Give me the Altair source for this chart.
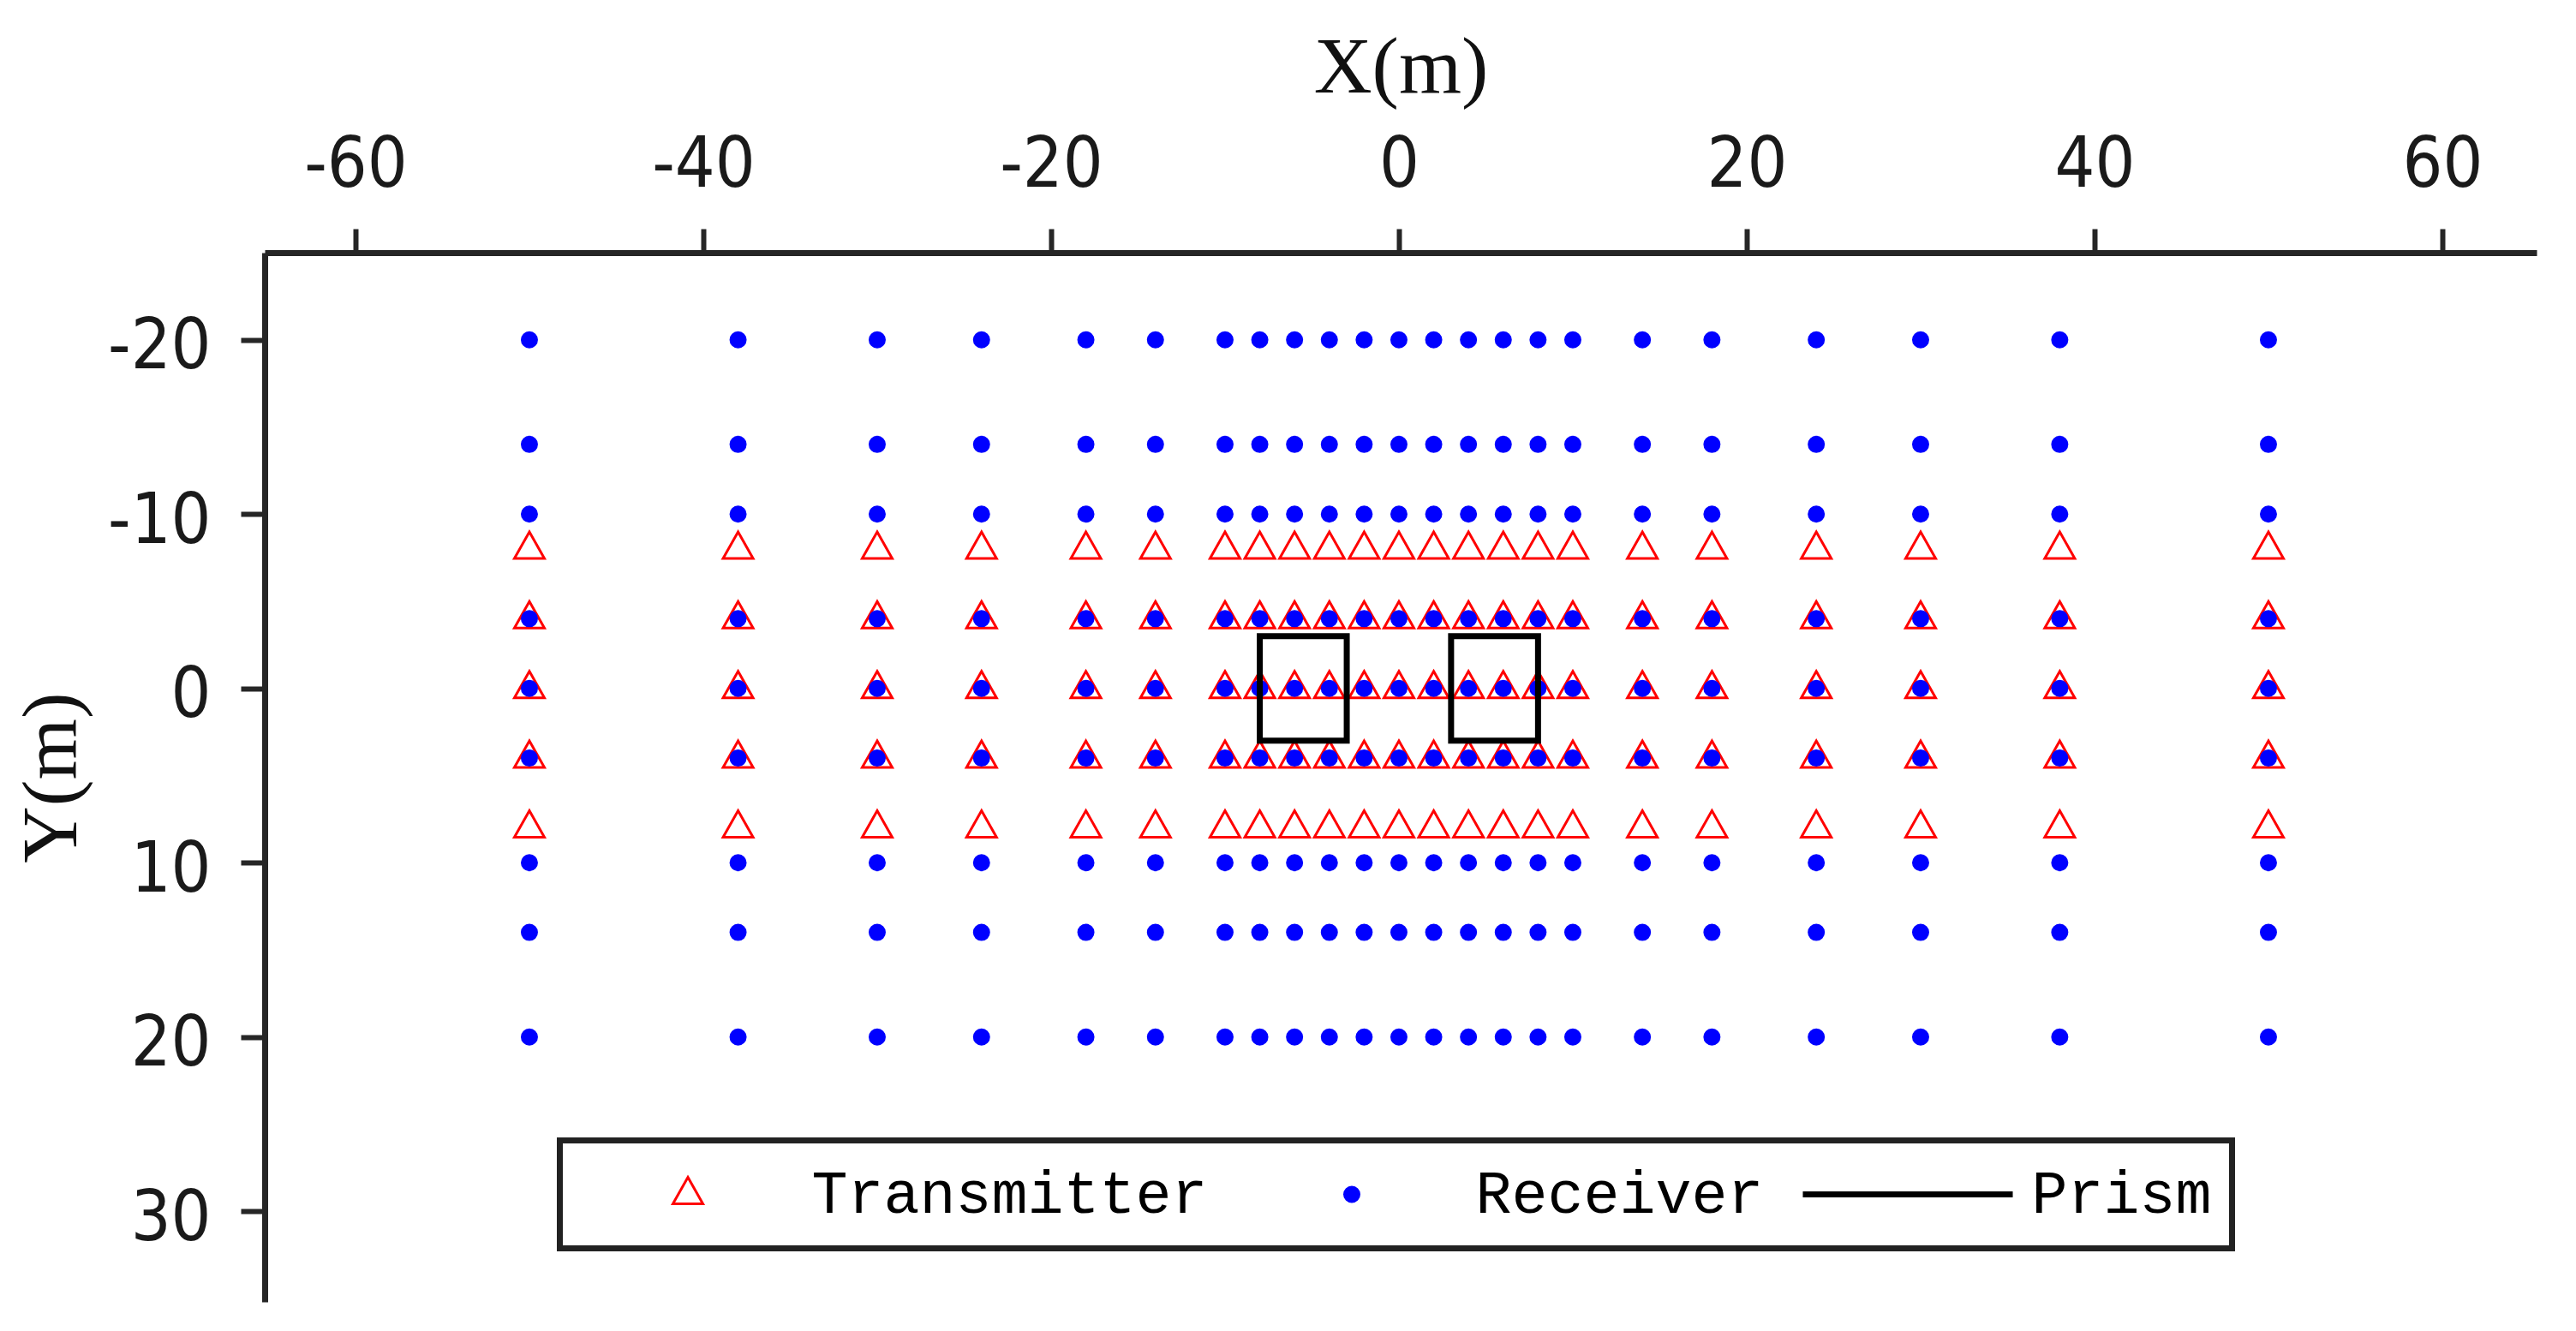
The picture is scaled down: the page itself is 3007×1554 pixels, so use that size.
import altair as alt
import pandas as pd

# ---- data ----
x_columns = [-50, -38, -30, -24, -18, -14, -10, -8, -6, -4, -2, 0, 2, 4, 6, 8, 10,
             14, 18, 24, 30, 38, 50]
transmitter_rows = [-8, -4, 0, 4, 8]
receiver_rows = [-20, -14, -10, -4, 0, 4, 10, 14, 20]
prism_x1 = [-8, 3]
prism_x2 = [-3, 8]
prism_y1 = [-3, -3]
prism_y2 = [3, 3]
x_ticks = [-60, -40, -20, 0, 20, 40, 60]
y_ticks = [-20, -10, 0, 10, 20, 30]
types = ["Transmitter", "Receiver", "Prism"]

rows = []
for yv in transmitter_rows:
    for xv in x_columns:
        rows.append({"x": xv, "y": yv, "type": "Transmitter"})
for yv in receiver_rows:
    for xv in x_columns:
        rows.append({"x": xv, "y": yv, "type": "Receiver"})
points = pd.DataFrame(rows)
prisms = pd.DataFrame({"x1": prism_x1, "x2": prism_x2, "y1": prism_y1, "y2": prism_y2})

# symbol paths (unit = sqrt(size)/2 = 122.5 px)
SYM_SIZE = 60025
TRI = "M0,-0.1633L0.1429,0.0898L-0.1429,0.0898Z"
CIRC = "M0.0694,0A0.0694,0.0694,0,1,1,-0.0694,0A0.0694,0.0694,0,1,1,0.0694,0Z"
LINE = "M-0.988,-0.0163L0.988,-0.0163L0.988,0.0163L-0.988,0.0163Z"

xscale = alt.Scale(domain=[-65.22, 65.42], nice=False, zero=False)
yscale = alt.Scale(domain=[-25.0, 35.2], nice=False, zero=False, reverse=True)

leg = alt.Legend(
    title=None, orient="none", legendX=344.5, legendY=1036.5, direction="horizontal",
    symbolSize=SYM_SIZE, symbolStrokeWidth=3, symbolOpacity=1, clipHeight=80,
    symbolOffset=2.5, labelOffset=20.5, columnPadding=41, padding=23,
    labelFont="Liberation Mono", labelFontSize=70, labelColor="#000000",
    labelLimit=3000, fillColor="#ffffff", strokeColor="#222222",
)

label_expr = "datum.value + ''"

pts = alt.Chart(points).mark_point(size=SYM_SIZE, strokeWidth=3, opacity=1).encode(
    x=alt.X("x:Q", scale=xscale, axis=alt.Axis(
        orient="top", values=x_ticks, title="X(m)", labelPadding=33, labelExpr=label_expr,
        titleY=-188, titleBaseline="alphabetic")),
    y=alt.Y("y:Q", scale=yscale, axis=alt.Axis(
        orient="left", values=y_ticks, title="Y(m)", labelPadding=35, labelExpr=label_expr,
        labelOffset=8, titleX=-221, titleBaseline="alphabetic", titleAngle=270,
        titleFontSize=92)),
    shape=alt.Shape("type:N", scale=alt.Scale(domain=types, range=[TRI, CIRC, LINE]), legend=leg),
    stroke=alt.Stroke("type:N", scale=alt.Scale(domain=types, range=["#ff0000", "#0000ff", "#000000"]), legend=leg),
    fill=alt.Fill("type:N", scale=alt.Scale(domain=types, range=["transparent", "#0000ff", "#000000"]), legend=leg),
)

prism_layer = alt.Chart(prisms).mark_rect(
    fill="transparent", stroke="#000000", strokeWidth=7
).encode(
    x=alt.X("x1:Q", scale=xscale), x2="x2:Q",
    y=alt.Y("y1:Q", scale=yscale), y2="y2:Q",
)

chart = alt.layer(pts, prism_layer).properties(
    width=2652, height=1225,
    autosize=alt.AutoSizeParams(type="none"),
    padding={"left": 301, "top": 287, "right": 30, "bottom": 20},
    background="#ffffff",
).configure_view(
    stroke="transparent"
).configure_axis(
    grid=False, domainColor="#262626", domainWidth=7, tickColor="#262626",
    tickWidth=6, tickSize=28,
    labelFont="Liberation Sans Narrow, Arial Narrow, DejaVu Sans Condensed, sans-serif",
    labelFontSize=82, labelColor="#1a1a1a",
    titleFont="Liberation Serif, Times New Roman, serif", titleFontSize=94,
    titleFontWeight="normal", titleColor="#111111",
).configure_legend(
    strokeWidth=7
)

chart.save("out.html", embed_options={"renderer": "svg", "actions": False})
